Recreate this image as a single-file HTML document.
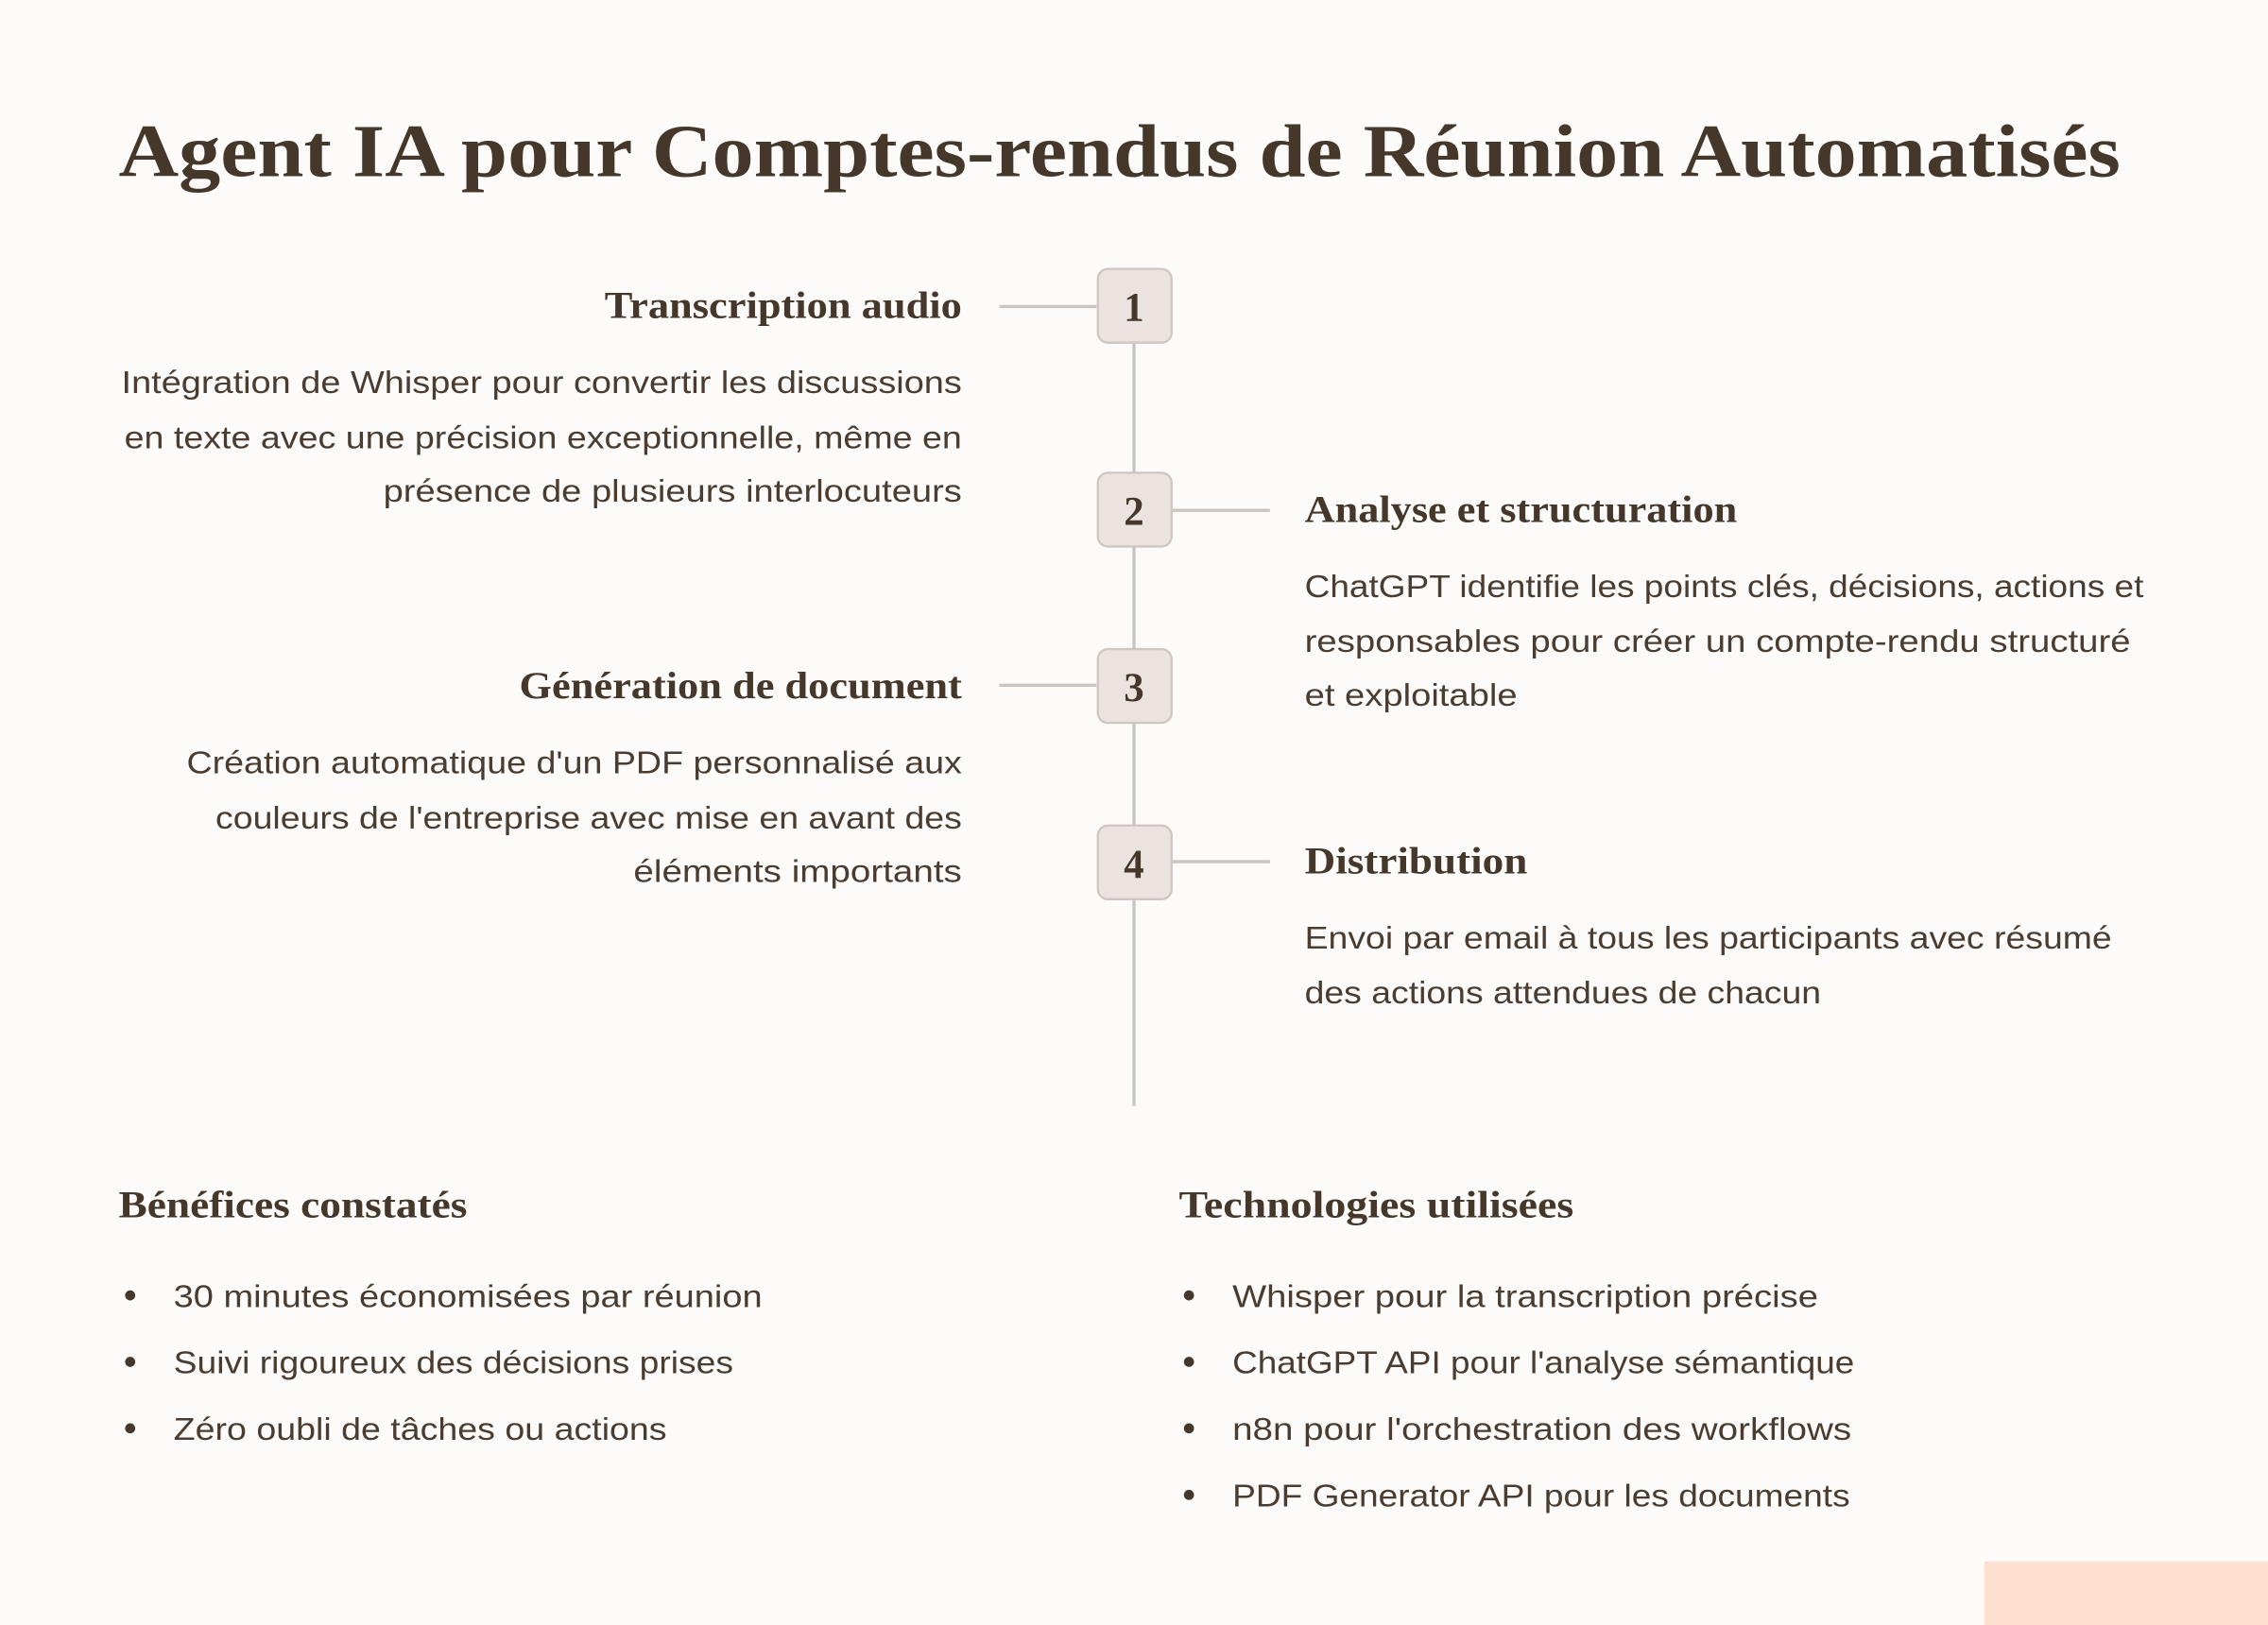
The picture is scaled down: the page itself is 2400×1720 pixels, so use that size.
<!DOCTYPE html>
<html><head><meta charset="utf-8"><style>
html,body{margin:0;padding:0;background:#fdfbf9;}
svg{display:block;}
.t{font-family:"Liberation Serif",serif;font-weight:bold;fill:#45372a;}
.b{font-family:"Liberation Sans",sans-serif;fill:#4a3c30;font-size:22px;}
</style></head><body>
<svg width="2400" height="1720" viewBox="0 0 1568 1124" preserveAspectRatio="none" xmlns="http://www.w3.org/2000/svg">
<rect width="1568" height="1124" fill="#fdfbf9"/>
<rect x="1372" y="1080" width="196" height="44" fill="#fde0cf"/>
<text class="t" x="82" y="122" font-size="52" textLength="1384" lengthAdjust="spacingAndGlyphs">Agent IA pour Comptes-rendus de Réunion Automatisés</text>

<g stroke="#cbc4bf" stroke-width="2.2" fill="none">
<line x1="784" y1="237" x2="784" y2="765"/>
<line x1="691" y1="212" x2="758" y2="212"/>
<line x1="810" y1="353" x2="878" y2="353"/>
<line x1="691" y1="474" x2="758" y2="474"/>
<line x1="810" y1="596" x2="878" y2="596"/>
</g>
<g fill="#ebe3e0" stroke="#cfc6c1" stroke-width="1.5">
<rect x="759" y="186" width="51" height="51" rx="7"/>
<rect x="759" y="327" width="51" height="51" rx="7"/>
<rect x="759" y="449" width="51" height="51" rx="7"/>
<rect x="759" y="571" width="51" height="51" rx="7"/>
</g>
<g class="t" font-size="28" text-anchor="middle">
<text x="784" y="222">1</text>
<text x="784" y="363">2</text>
<text x="784" y="485">3</text>
<text x="784" y="607">4</text>
</g>

<text class="t" font-size="26" x="665" y="220" text-anchor="end" textLength="247" lengthAdjust="spacingAndGlyphs">Transcription audio</text>
<text class="b" x="665" y="272" text-anchor="end" textLength="581" lengthAdjust="spacingAndGlyphs">Intégration de Whisper pour convertir les discussions</text>
<text class="b" x="665" y="310" text-anchor="end" textLength="579" lengthAdjust="spacingAndGlyphs">en texte avec une précision exceptionnelle, même en</text>
<text class="b" x="665" y="347" text-anchor="end" textLength="400" lengthAdjust="spacingAndGlyphs">présence de plusieurs interlocuteurs</text>

<text class="t" font-size="26" x="902" y="361" textLength="299" lengthAdjust="spacingAndGlyphs">Analyse et structuration</text>
<text class="b" x="902" y="413" textLength="580" lengthAdjust="spacingAndGlyphs">ChatGPT identifie les points clés, décisions, actions et</text>
<text class="b" x="902" y="451" textLength="571" lengthAdjust="spacingAndGlyphs">responsables pour créer un compte-rendu structuré</text>
<text class="b" x="902" y="488" textLength="147" lengthAdjust="spacingAndGlyphs">et exploitable</text>

<text class="t" font-size="26" x="665" y="483" text-anchor="end" textLength="306" lengthAdjust="spacingAndGlyphs">Génération de document</text>
<text class="b" x="665" y="535" text-anchor="end" textLength="536" lengthAdjust="spacingAndGlyphs">Création automatique d'un PDF personnalisé aux</text>
<text class="b" x="665" y="573" text-anchor="end" textLength="516" lengthAdjust="spacingAndGlyphs">couleurs de l'entreprise avec mise en avant des</text>
<text class="b" x="665" y="610" text-anchor="end" textLength="227" lengthAdjust="spacingAndGlyphs">éléments importants</text>

<text class="t" font-size="26" x="902" y="604" textLength="154" lengthAdjust="spacingAndGlyphs">Distribution</text>
<text class="b" x="902" y="656" textLength="558" lengthAdjust="spacingAndGlyphs">Envoi par email à tous les participants avec résumé</text>
<text class="b" x="902" y="694" textLength="357" lengthAdjust="spacingAndGlyphs">des actions attendues de chacun</text>

<text class="t" font-size="26" x="82" y="842" textLength="241" lengthAdjust="spacingAndGlyphs">Bénéfices constatés</text>
<text class="t" font-size="26" x="815" y="842" textLength="273" lengthAdjust="spacingAndGlyphs">Technologies utilisées</text>

<g fill="#45372a">
<circle cx="90" cy="896" r="3.5"/><circle cx="90" cy="942" r="3.5"/><circle cx="90" cy="988" r="3.5"/>
<circle cx="822" cy="896" r="3.5"/><circle cx="822" cy="942" r="3.5"/><circle cx="822" cy="988" r="3.5"/><circle cx="822" cy="1034" r="3.5"/>
</g>
<text class="b" x="120" y="904" textLength="407" lengthAdjust="spacingAndGlyphs">30 minutes économisées par réunion</text>
<text class="b" x="120" y="950" textLength="387" lengthAdjust="spacingAndGlyphs">Suivi rigoureux des décisions prises</text>
<text class="b" x="120" y="996" textLength="341" lengthAdjust="spacingAndGlyphs">Zéro oubli de tâches ou actions</text>
<text class="b" x="852" y="904" textLength="405" lengthAdjust="spacingAndGlyphs">Whisper pour la transcription précise</text>
<text class="b" x="852" y="950" textLength="430" lengthAdjust="spacingAndGlyphs">ChatGPT API pour l'analyse sémantique</text>
<text class="b" x="852" y="996" textLength="428" lengthAdjust="spacingAndGlyphs">n8n pour l'orchestration des workflows</text>
<text class="b" x="852" y="1042" textLength="427" lengthAdjust="spacingAndGlyphs">PDF Generator API pour les documents</text>
</svg>
</body></html>
